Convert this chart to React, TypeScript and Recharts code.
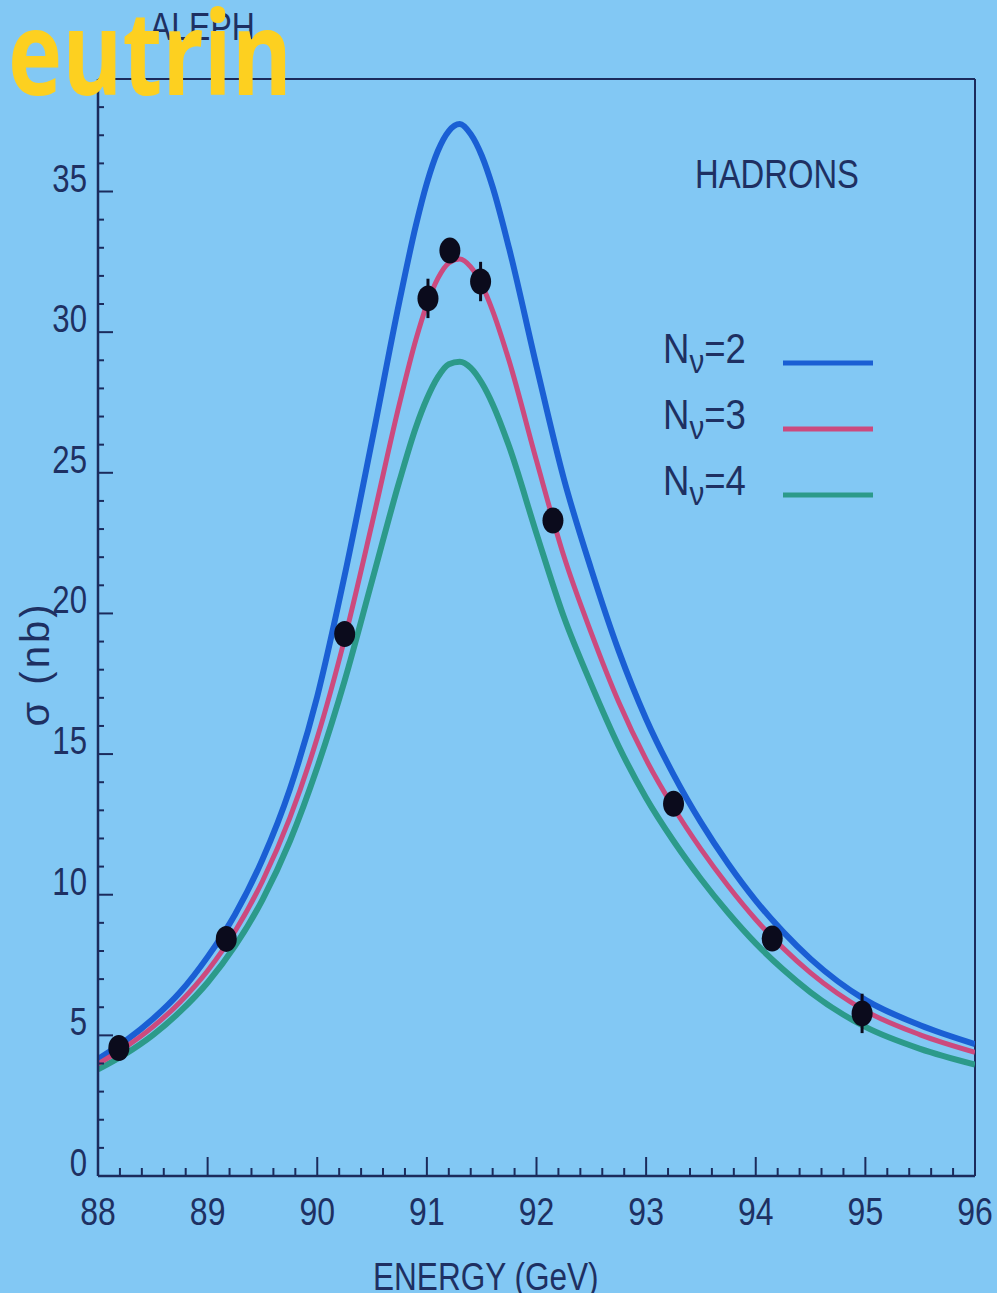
import React from 'react';
import { ComposedChart, Line, Scatter, ErrorBar, XAxis, YAxis, ReferenceLine, Legend } from 'recharts';

// ---- data ----
const energy = [88.0, 88.25, 88.5, 88.75, 89.0, 89.25, 89.5, 89.75, 90.0, 90.25, 90.5, 90.75, 90.9, 91.0, 91.1, 91.2, 91.3, 91.4, 91.5, 91.6, 91.75, 92.0, 92.25, 92.5, 92.75, 93.0, 93.25, 93.5, 93.75, 94.0, 94.25, 94.5, 95.0, 95.5, 96.0];
const sigmaN2 = [4.16, 4.80, 5.58, 6.54, 7.79, 9.30, 11.25, 13.75, 17.05, 21.35, 26.15, 31.10, 33.80, 35.30, 36.44, 37.15, 37.40, 37.04, 36.28, 35.16, 32.98, 28.79, 24.78, 21.56, 18.67, 16.25, 14.27, 12.57, 11.09, 9.79, 8.68, 7.72, 6.26, 5.36, 4.69];
const sigmaN3 = [3.99, 4.58, 5.30, 6.19, 7.30, 8.70, 10.48, 12.73, 15.58, 19.10, 23.20, 27.46, 29.74, 30.98, 31.91, 32.46, 32.60, 32.32, 31.69, 30.76, 28.98, 25.43, 22.03, 19.30, 16.85, 14.80, 13.10, 11.62, 10.30, 9.12, 8.10, 7.22, 5.87, 5.02, 4.40];
const sigmaN4 = [3.79, 4.34, 5.01, 5.85, 6.88, 8.18, 9.82, 11.90, 14.52, 17.61, 21.16, 24.71, 26.62, 27.63, 28.40, 28.86, 28.95, 28.73, 28.20, 27.44, 25.94, 22.84, 19.87, 17.47, 15.28, 13.44, 11.91, 10.56, 9.35, 8.27, 7.34, 6.53, 5.30, 4.52, 3.96];

const pointEnergy = [88.19, 89.17, 90.25, 91.01, 91.21, 91.49, 92.15, 93.25, 94.15, 94.97];
const pointSigma = [4.55, 8.43, 19.27, 31.2, 32.9, 31.8, 23.3, 13.23, 8.44, 5.78];
const pointError = [0.35, 0.3, 0.3, 0.7, 0.4, 0.7, 0.3, 0.3, 0.3, 0.7];

const seriesNames = ['N\u03bd=2', 'N\u03bd=3', 'N\u03bd=4'];
const xMajorTicks = [88, 89, 90, 91, 92, 93, 94, 95, 96];
const yMajorTicks = [0, 5, 10, 15, 20, 25, 30, 35];

const xTicks: number[] = [];
for (let i = 0; i <= 40; i++) xTicks.push(Math.round((88 + i * 0.2) * 10) / 10);
const yTicks: number[] = [];
for (let i = 0; i <= 38; i++) yTicks.push(i);

const curveRows = energy.map((E, i) => ({ E, n2: sigmaN2[i], n3: sigmaN3[i], n4: sigmaN4[i] }));
const pointRows = pointEnergy.map((E, i) => ({ E, sigma: pointSigma[i], err: pointError[i] }));

// ---- styles ----
const BG = '#82c8f4';
const AXIS = '#1b2b5c';
const TEXT = '#1e3062';
const BLUE = '#1a5fd4';
const RED = '#cc4a7e';
const GREEN = '#2c9a8a';
const DOT = '#0b0b1c';
const SANS = "'Liberation Sans', Arial, sans-serif";
const SQ = 0.82; // horizontal squeeze to imitate a condensed face

const NText = (p: { x: number; y: number; size: number; anchor?: 'start' | 'middle' | 'end'; children: React.ReactNode }) => (
  <text
    transform={`translate(${p.x},${p.y}) scale(${SQ},1)`}
    fontSize={p.size}
    textAnchor={p.anchor || 'start'}
    fill={TEXT}
    fontFamily={SANS}
  >
    {p.children}
  </text>
);

const XTick = (props: any) => {
  const { x, y, payload } = props;
  const v = payload.value;
  const major = xMajorTicks.some((m) => Math.abs(m - v) < 1e-6);
  return (
    <g>
      <line x1={x} x2={x} y1={y} y2={y - (major ? 19 : 8)} stroke={AXIS} strokeWidth={2} />
      {major && (
        <NText x={x} y={y + 49} size={39} anchor="middle">
          {v}
        </NText>
      )}
    </g>
  );
};

const YTick = (props: any) => {
  const { x, y, payload } = props;
  const v = payload.value;
  const major = yMajorTicks.includes(v);
  return (
    <g>
      <line x1={x} x2={x + (major ? 15 : 6)} y1={y} y2={y} stroke={AXIS} strokeWidth={2} />
      {major && (
        <NText x={x - 11} y={y} size={38} anchor="end">
          {v}
        </NText>
      )}
    </g>
  );
};

const DotShape = (props: any) => {
  const { cx, cy } = props;
  if (cx == null || cy == null) return null;
  return <ellipse cx={cx} cy={cy} rx={10.5} ry={13} fill={DOT} />;
};

const renderLegend = (props: any) => {
  const items = [...(props.payload || [])]
    .filter((it: any) => it.type !== 'none' && it.dataKey !== 'sigma')
    .sort((a: any, b: any) => String(a.value).localeCompare(String(b.value)));
  return (
    <svg width={240} height={190} style={{ overflow: 'visible' }}>
      {items.map((it: any, i: number) => {
        const y = 38 + i * 66;
        const name = String(it.value);
        return (
          <g key={name}>
            <text
              transform={`translate(8,${y}) scale(0.87,1)`}
              fontSize={42}
              fill={TEXT}
              fontFamily={SANS}
            >
              {name.slice(0, 1)}
              <tspan fontSize={34} dy={10}>{name.slice(1, 2)}</tspan>
              <tspan dy={-10}>{name.slice(2)}</tspan>
            </text>
            <line x1={128} x2={218} y1={y} y2={y} stroke={it.color} strokeWidth={5} />
          </g>
        );
      })}
    </svg>
  );
};

export default function App() {
  return (
    <div style={{ position: 'absolute', left: 0, top: 0, width: 997, height: 1293, background: BG, overflow: 'hidden' }}>
      <ComposedChart
        width={997}
        height={1293}
        data={curveRows}
        margin={{ top: 79, right: 22, left: 38, bottom: 57 }}
      >
        <XAxis
          dataKey="E"
          type="number"
          domain={[88, 96]}
          ticks={xTicks}
          interval={0}
          tick={<XTick />}
          tickLine={false}
          tickSize={0}
          tickMargin={0}
          height={60}
          axisLine={{ stroke: AXIS, strokeWidth: 2.5 }}
          allowDataOverflow
        />
        <YAxis
          type="number"
          domain={[0, 39]}
          ticks={yTicks}
          interval={0}
          tick={<YTick />}
          tickLine={false}
          tickSize={0}
          tickMargin={0}
          width={60}
          axisLine={{ stroke: AXIS, strokeWidth: 2.5 }}
          allowDataOverflow
        />
        <ReferenceLine y={39} stroke={AXIS} strokeWidth={2} />
        <ReferenceLine x={96} stroke={AXIS} strokeWidth={2} />
        <Legend
          content={renderLegend}
          layout="horizontal"
          verticalAlign="middle"
          align="center"
          wrapperStyle={{ position: 'absolute', left: 655, top: 325, width: 240, height: 190 }}
        />
        <Line type="monotone" dataKey="n2" name={seriesNames[0]} stroke={BLUE} strokeWidth={6} dot={false} activeDot={false} isAnimationActive={false} />
        <Line type="monotone" dataKey="n4" name={seriesNames[2]} stroke={GREEN} strokeWidth={6} dot={false} activeDot={false} isAnimationActive={false} />
        <Line type="monotone" dataKey="n3" name={seriesNames[1]} stroke={RED} strokeWidth={5} dot={false} activeDot={false} isAnimationActive={false} />
        <Scatter data={pointRows} dataKey="sigma" shape={<DotShape />} legendType="none" isAnimationActive={false}>
          <ErrorBar dataKey="err" direction="y" width={0} stroke={DOT} strokeWidth={3} />
        </Scatter>
      </ComposedChart>
      <svg
        width={997}
        height={1293}
        style={{ position: 'absolute', left: 0, top: 0, pointerEvents: 'none', zIndex: 3 }}
      >
        <NText x={150} y={40} size={39}>ALEPH</NText>
        <NText x={695} y={188} size={40}>HADRONS</NText>
        <NText x={373} y={1290} size={38.5}>ENERGY (GeV)</NText>
        <text
          transform="translate(49,664) rotate(-90)"
          textAnchor="middle"
          fontSize={40}
          letterSpacing={3}
          fill={TEXT}
          fontFamily={SANS}
        >
          σ (nb)
        </text>
        <text
          x={8}
          y={95}
          fontSize={116}
          fontWeight={700}
          fill="#fdd020"
          fontFamily="'Open Sans', 'Noto Sans', sans-serif"
          textLength={284}
          lengthAdjust="spacingAndGlyphs"
        >
          eutrin
        </text>
      </svg>
    </div>
  );
}
